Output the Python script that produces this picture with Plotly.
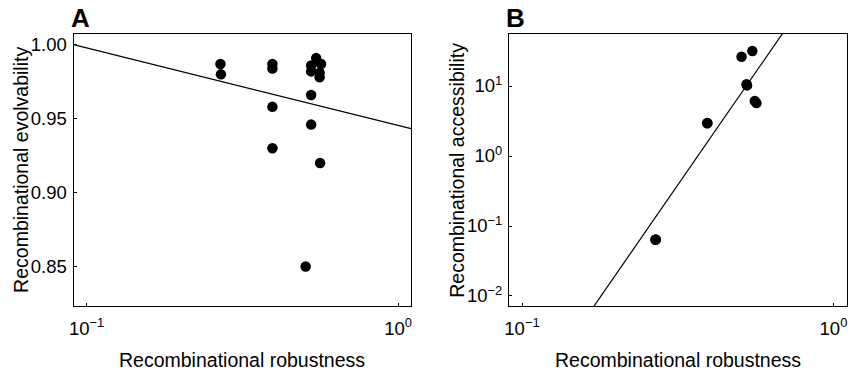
import numpy as np
import plotly.graph_objects as go

# ---- Data ----
robust_A = [0.269, 0.270, 0.395, 0.395, 0.395, 0.395, 0.526, 0.526, 0.526, 0.526,
            0.546, 0.566, 0.560, 0.560, 0.562, 0.505]
evolv_A = [0.987, 0.980, 0.987, 0.984, 0.958, 0.930, 0.986, 0.982, 0.966, 0.946,
           0.991, 0.987, 0.981, 0.978, 0.920, 0.850]

robust_B = [0.507, 0.549, 0.526, 0.528, 0.559, 0.566, 0.393, 0.394, 0.268, 0.269]
access_B = [26.2, 31.6, 10.6, 10.2, 6.1, 5.7, 2.93, 2.95, 0.0637, 0.064]

# fitted lines: A  y = a + b*log10(x) ; B  log10(y) = c + d*log10(x)
fitA = (0.9455, -0.0524)
fitB = (2.802, 6.434)

xrange_log = [-1.042, 0.042]
yA_range = [0.8236, 1.0073]
yB_range_log = [-2.143, 1.743]

FONT = "Liberation Sans, Arial, Helvetica, sans-serif"

fig = go.Figure()

xl = np.logspace(xrange_log[0], xrange_log[1], 50)
fig.add_trace(go.Scatter(x=xl, y=fitA[0] + fitA[1] * np.log10(xl), mode="lines",
                         line=dict(color="black", width=1.2), xaxis="x", yaxis="y",
                         showlegend=False, hoverinfo="skip"))
fig.add_trace(go.Scatter(x=robust_A, y=evolv_A, mode="markers",
                         marker=dict(color="black", size=10.5), xaxis="x", yaxis="y",
                         showlegend=False))

fig.add_trace(go.Scatter(x=xl, y=10 ** (fitB[0] + fitB[1] * np.log10(xl)), mode="lines",
                         line=dict(color="black", width=1.2), xaxis="x2", yaxis="y2",
                         showlegend=False, hoverinfo="skip"))
fig.add_trace(go.Scatter(x=robust_B, y=access_B, mode="markers",
                         marker=dict(color="black", size=10.5), xaxis="x2", yaxis="y2",
                         showlegend=False))

W, H = 852, 370
axis_common = dict(showline=True, linecolor="black", linewidth=1, mirror=True,
                   ticks="inside", ticklen=3, tickcolor="black", showgrid=False,
                   zeroline=False, tickfont=dict(family=FONT, size=18.5, color="black"))

xticks = dict(tickvals=[0.1, 1], ticktext=["10<sup>\u22121</sup>", "10<sup>0</sup>"])

fig.update_layout(
    width=W, height=H, margin=dict(l=0, r=0, t=0, b=0),
    paper_bgcolor="white", plot_bgcolor="white",
    font=dict(family=FONT, color="black", size=18),
    xaxis=dict(type="log", range=xrange_log, domain=[69 / W, 409 / W], anchor="y",
               ticklabelstandoff=6, **xticks, **axis_common),
    yaxis=dict(range=yA_range, domain=[1 - 305.5 / H, 1 - 34 / H], anchor="x",
               tickvals=[0.85, 0.90, 0.95, 1.00], ticktext=["0.85", "0.90", "0.95", "1.00"],
               ticklabelstandoff=2, **axis_common),
    xaxis2=dict(type="log", range=xrange_log, domain=[507.5 / W, 847.5 / W], anchor="y2",
                ticklabelstandoff=6, **xticks, **axis_common),
    yaxis2=dict(type="log", range=yB_range_log, domain=[1 - 306 / H, 1 - 34 / H], anchor="x2",
                tickvals=[0.01, 0.1, 1, 10],
                ticktext=["10<sup>\u22122</sup>", "10<sup>\u22121</sup>", "10<sup>0</sup>", "10<sup>1</sup>"],
                ticklabelstandoff=2, **axis_common),
)

def ann(text, x, y, size, bold=False, angle=0, xanchor="center", yanchor="middle"):
    fig.add_annotation(text=f"<b>{text}</b>" if bold else text, x=x / W, y=1 - y / H,
                       xref="paper", yref="paper", showarrow=False, textangle=angle,
                       xanchor=xanchor, yanchor=yanchor,
                       font=dict(family=FONT, size=size, color="black"))

ann("Recombinational robustness", 239, 360, 19.5)
ann("Recombinational robustness", 677.5, 360, 19.5)
ann("Recombinational evolvability", 16, 170, 19.5, angle=-90)
ann("Recombinational accessibility", 455, 170, 19.5, angle=-90)
ann("A", 76, 18, 26, bold=True)
ann("B", 514, 18, 26, bold=True)

fig.write_html("out.html")
